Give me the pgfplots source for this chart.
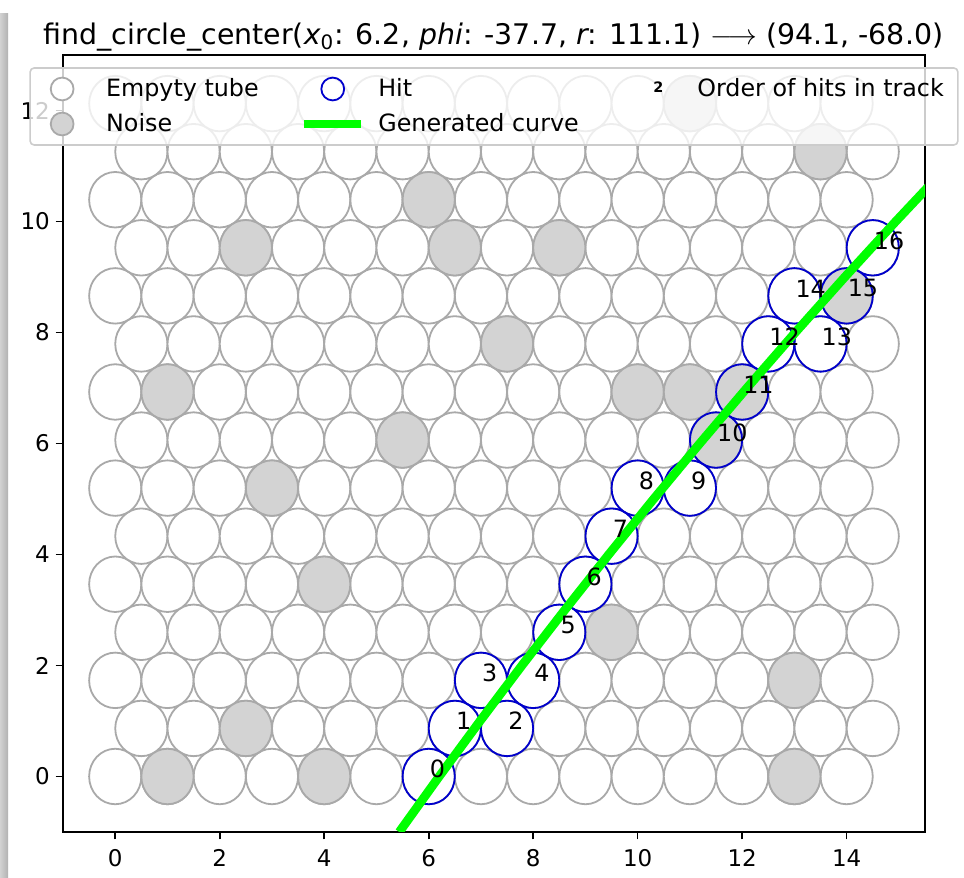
\documentclass[border=0pt]{standalone}
\usepackage{fontspec}
\setmainfont{DejaVu Sans}
\usepackage{pgfplots}
\pgfplotsset{compat=1.18}
\definecolor{tubeedge}{HTML}{A9A9A9}
\definecolor{noisefill}{HTML}{D3D3D3}
\definecolor{hitblue}{HTML}{0000CD}
\definecolor{curvegreen}{HTML}{00FF00}
\definecolor{legendedge}{HTML}{CCCCCC}
\newcommand{\tf}{\fontsize{11.5}{13}\selectfont}

\begin{document}
\begin{tikzpicture}
\path[use as bounding box] (0pt,0pt) rectangle (482pt,439pt);
\shade[left color=gray!35, right color=gray!60] (0pt,0pt) rectangle (4pt,432pt);
\begin{axis}[
  at={(31.5pt,23pt)}, anchor=south west,
  scale only axis, width=431pt, height=388.5pt,
  xmin=-1, xmax=15.5, ymin=-1, ymax=13,
  clip marker paths=true,
  xtick={0,2,...,14}, ytick={0,2,...,12},
  xticklabels={\tf 0,\tf 2,\tf 4,\tf 6,\tf 8,\tf 10,\tf 12,\tf 14},
  yticklabels={\tf 0,\tf 2,\tf 4,\tf 6,\tf 8,\tf 10,\tf 12},
  tick pos=left, tick align=outside, major tick length=3.65pt,
  tick style={line width=0.8pt, black},
  axis line style={line width=0.8pt},
  xticklabel style={inner sep=0pt, anchor=north, yshift=-5pt},
  yticklabel style={inner sep=0pt, anchor=east, xshift=-2.75pt},
  legend columns=3,
  legend cell align=left,
  legend style={
    at={(0.5,1)}, anchor=north, yshift=-6.5pt,
    draw=legendedge, line width=0.8pt, rounded corners=2pt,
    fill=white, fill opacity=0.8, text opacity=1,
    inner xsep=0.75pt, inner ysep=1.75pt, outer sep=0pt,
    font=\fontsize{11.9}{14}\selectfont,
    nodes={inner sep=0pt},
    /tikz/every odd column/.append style={column sep=6.75pt},
    /tikz/every even column/.append style={column sep=0pt},
  },
]

% empty tubes (whole hexagonal layer, rows of 15)
\addplot[forget plot, only marks, mark=*, mark size=13.06pt,
  mark options={draw=tubeedge, fill=white, line width=0.9pt, yscale=1.0624}]
coordinates {
(0,0) (1,0) (2,0) (3,0) (4,0) (5,0) (6,0) (7,0) (8,0) (9,0) (10,0) (11,0) (12,0) (13,0) (14,0)
(0.5,0.866) (1.5,0.866) (2.5,0.866) (3.5,0.866) (4.5,0.866) (5.5,0.866) (6.5,0.866) (7.5,0.866) (8.5,0.866) (9.5,0.866) (10.5,0.866) (11.5,0.866) (12.5,0.866) (13.5,0.866) (14.5,0.866)
(0,1.732) (1,1.732) (2,1.732) (3,1.732) (4,1.732) (5,1.732) (6,1.732) (7,1.732) (8,1.732) (9,1.732) (10,1.732) (11,1.732) (12,1.732) (13,1.732) (14,1.732)
(0.5,2.598) (1.5,2.598) (2.5,2.598) (3.5,2.598) (4.5,2.598) (5.5,2.598) (6.5,2.598) (7.5,2.598) (8.5,2.598) (9.5,2.598) (10.5,2.598) (11.5,2.598) (12.5,2.598) (13.5,2.598) (14.5,2.598)
(0,3.464) (1,3.464) (2,3.464) (3,3.464) (4,3.464) (5,3.464) (6,3.464) (7,3.464) (8,3.464) (9,3.464) (10,3.464) (11,3.464) (12,3.464) (13,3.464) (14,3.464)
(0.5,4.330) (1.5,4.330) (2.5,4.330) (3.5,4.330) (4.5,4.330) (5.5,4.330) (6.5,4.330) (7.5,4.330) (8.5,4.330) (9.5,4.330) (10.5,4.330) (11.5,4.330) (12.5,4.330) (13.5,4.330) (14.5,4.330)
(0,5.196) (1,5.196) (2,5.196) (3,5.196) (4,5.196) (5,5.196) (6,5.196) (7,5.196) (8,5.196) (9,5.196) (10,5.196) (11,5.196) (12,5.196) (13,5.196) (14,5.196)
(0.5,6.062) (1.5,6.062) (2.5,6.062) (3.5,6.062) (4.5,6.062) (5.5,6.062) (6.5,6.062) (7.5,6.062) (8.5,6.062) (9.5,6.062) (10.5,6.062) (11.5,6.062) (12.5,6.062) (13.5,6.062) (14.5,6.062)
(0,6.928) (1,6.928) (2,6.928) (3,6.928) (4,6.928) (5,6.928) (6,6.928) (7,6.928) (8,6.928) (9,6.928) (10,6.928) (11,6.928) (12,6.928) (13,6.928) (14,6.928)
(0.5,7.794) (1.5,7.794) (2.5,7.794) (3.5,7.794) (4.5,7.794) (5.5,7.794) (6.5,7.794) (7.5,7.794) (8.5,7.794) (9.5,7.794) (10.5,7.794) (11.5,7.794) (12.5,7.794) (13.5,7.794) (14.5,7.794)
(0,8.660) (1,8.660) (2,8.660) (3,8.660) (4,8.660) (5,8.660) (6,8.660) (7,8.660) (8,8.660) (9,8.660) (10,8.660) (11,8.660) (12,8.660) (13,8.660) (14,8.660)
(0.5,9.526) (1.5,9.526) (2.5,9.526) (3.5,9.526) (4.5,9.526) (5.5,9.526) (6.5,9.526) (7.5,9.526) (8.5,9.526) (9.5,9.526) (10.5,9.526) (11.5,9.526) (12.5,9.526) (13.5,9.526) (14.5,9.526)
(0,10.392) (1,10.392) (2,10.392) (3,10.392) (4,10.392) (5,10.392) (6,10.392) (7,10.392) (8,10.392) (9,10.392) (10,10.392) (11,10.392) (12,10.392) (13,10.392) (14,10.392)
(0.5,11.258) (1.5,11.258) (2.5,11.258) (3.5,11.258) (4.5,11.258) (5.5,11.258) (6.5,11.258) (7.5,11.258) (8.5,11.258) (9.5,11.258) (10.5,11.258) (11.5,11.258) (12.5,11.258) (13.5,11.258) (14.5,11.258)
(0,12.124) (1,12.124) (2,12.124) (3,12.124) (4,12.124) (5,12.124) (6,12.124) (7,12.124) (8,12.124) (9,12.124) (10,12.124) (11,12.124) (12,12.124) (13,12.124) (14,12.124)
};

% noise tubes
\addplot[forget plot, only marks, mark=*, mark size=13.06pt,
  mark options={draw=tubeedge, fill=noisefill, line width=0.9pt, yscale=1.0624}]
coordinates {
(1,0) (4,0) (13,0)
(2.5,0.866)
(13,1.732)
(9.5,2.598)
(4,3.464)
(3,5.196)
(5.5,6.062) (11.5,6.062)
(1,6.928) (10,6.928) (11,6.928) (12,6.928)
(7.5,7.794)
(14,8.660)
(2.5,9.526) (6.5,9.526) (8.5,9.526)
(6,10.392)
(13.5,11.258)
(11,12.124)
};

% hits
\addplot[forget plot, only marks, mark=o, mark size=13.06pt,
  mark options={draw=hitblue, line width=0.9pt, yscale=1.0624}]
coordinates {
(6,0) (6.5,0.866) (7.5,0.866) (7,1.732) (8,1.732) (8.5,2.598) (9,3.464)
(9.5,4.330) (10,5.196) (11,5.196) (11.5,6.062) (12,6.928) (12.5,7.794)
(13.5,7.794) (13,8.660) (14,8.660) (14.5,9.526)
};

% generated curve
\addplot[forget plot, curvegreen, line width=4.4pt, mark=none]
coordinates {
(5.436,-1) (6.200,0) (6.983,1) (7.784,2) (8.605,3) (9.446,4) (10.306,5)
(11.188,6) (12.091,7) (13.017,8) (13.966,9) (14.939,10) (15.937,11) (16.961,12)
};

% order of hits
\addplot[forget plot, only marks, mark=none, nodes near coords,
  point meta=explicit symbolic,
  every node near coord/.append style={anchor=west, inner sep=0pt,
    xshift=0.4pt, yshift=3.7pt, font=\fontsize{11.9}{14}\selectfont, text=black}]
table[meta=n] {
x y n
6 0 0
6.5 0.866 1
7.5 0.866 2
7 1.732 3
8 1.732 4
8.5 2.598 5
9 3.464 6
9.5 4.330 7
10 5.196 8
11 5.196 9
11.5 6.062 10
12 6.928 11
12.5 7.794 12
13.5 7.794 13
13 8.660 14
14 8.660 15
14.5 9.526 16
};

\addlegendimage{legend image code/.code={
  \path[draw=none, fill=none] (0pt,-8.75pt) rectangle (30.5pt,8.75pt);
  \draw[draw=tubeedge, fill=white, fill opacity=1, line width=0.9pt] (15.25pt,0pt) circle[radius=5.7pt];}}
\addlegendentry{\makebox[97.25pt][l]{Empyty tube}}
\addlegendimage{legend image code/.code={
  \path[draw=none, fill=none] (0pt,-8.75pt) rectangle (30.5pt,8.75pt);
  \draw[draw=hitblue, fill=none, line width=0.9pt] (15.25pt,0pt) circle[radius=5.7pt];}}
\addlegendentry{\makebox[122.25pt][l]{Hit}}
\addlegendimage{legend image code/.code={
  \path[draw=none, fill=none] (0pt,-8.75pt) rectangle (30.5pt,8.75pt);
  \node[draw=none, fill=none, font=\fontsize{7.2}{8}\selectfont\bfseries, inner sep=0pt] at (15.25pt,0pt) {2};}}
\addlegendentry{\makebox[129.5pt][l]{Order of hits in track}}
\addlegendimage{legend image code/.code={
  \path[draw=none, fill=none] (0pt,-8.75pt) rectangle (30.5pt,8.75pt);
  \draw[draw=tubeedge, fill=noisefill, fill opacity=1, line width=0.9pt] (15.25pt,0pt) circle[radius=5.7pt];}}
\addlegendentry{\makebox[97.25pt][l]{Noise}}
\addlegendimage{legend image code/.code={
  \path[draw=none, fill=none] (0pt,-8.75pt) rectangle (30.5pt,8.75pt);
  \draw[curvegreen, line width=3.6pt, draw opacity=1] (1pt,0pt) -- (29.5pt,0pt);}}
\addlegendentry{\makebox[122.25pt][l]{Generated curve}}
\end{axis}

\node[anchor=base, font=\fontsize{14.2}{17}\selectfont, inner sep=0pt] at (246.7pt,416.5pt)
  {find\_circle\_center({\itshape x}\textsubscript{0}: 6.2, {\itshape phi}: -37.7, {\itshape r}: 111.1) $\longrightarrow$ (94.1, -68.0)};
\end{tikzpicture}
\end{document}
